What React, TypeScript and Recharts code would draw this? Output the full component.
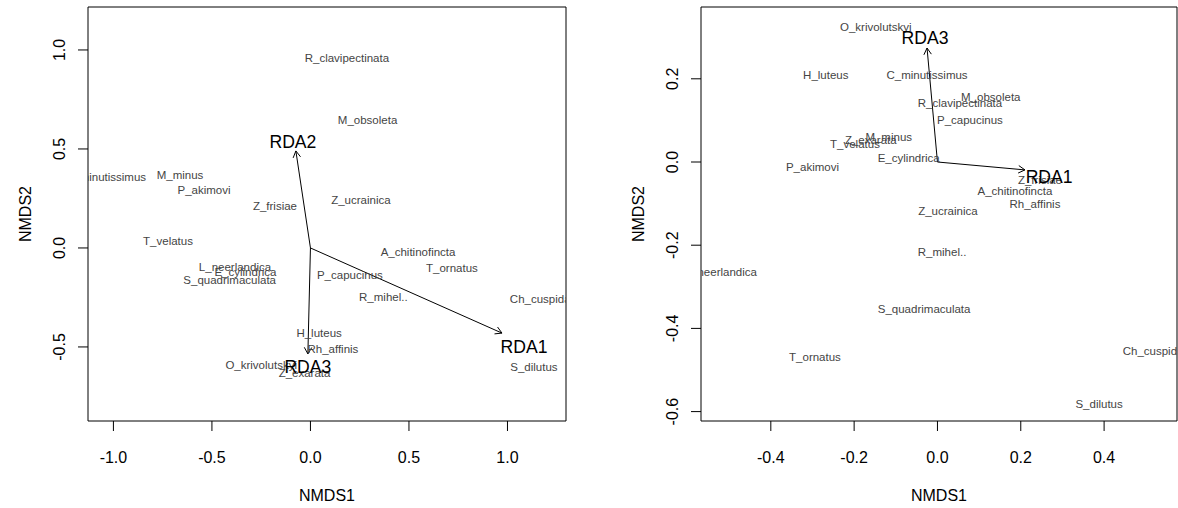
import React from 'react';
import { ScatterChart, Scatter, XAxis, YAxis, ReferenceLine, ReferenceArea, Label } from 'recharts';

const FONT = '"Liberation Sans", Arial, Helvetica, sans-serif';

// ---------- Left panel data ----------
const leftNames = [
  'R_clavipectinata', 'M_obsoleta', 'C_minutissimus', 'M_minus', 'P_akimovi', 'Z_frisiae',
  'Z_ucrainica', 'T_velatus', 'A_chitinofincta', 'T_ornatus', 'L_neerlandica', 'E_cylindrica',
  'S_quadrimaculata', 'P_capucinus', 'R_mihel..', 'Ch_cuspidatus', 'H_luteus', 'Rh_affinis',
  'O_krivolutskyi', 'Z_exarata', 'S_dilutus',
];
const leftX = [
  0.185, 0.29, -1.04, -0.662, -0.54, -0.18,
  0.256, -0.723, 0.546, 0.718, -0.383, -0.33,
  -0.41, 0.2, 0.37, 1.205, 0.044, 0.114,
  -0.25, -0.03, 1.134,
];
const leftY = [
  0.96, 0.646, 0.36, 0.369, 0.293, 0.21,
  0.24, 0.035, -0.02, -0.1, -0.096, -0.12,
  -0.16, -0.135, -0.25, -0.26, -0.43, -0.51,
  -0.59, -0.63, -0.6,
];
const leftArrowNames = ['RDA1', 'RDA2', 'RDA3'];
const leftArrowX = [0.972, -0.074, -0.013];
const leftArrowY = [-0.43, 0.49, -0.535];
const leftArrowLabelX = [1.084, -0.089, -0.013];
const leftArrowLabelY = [-0.5, 0.535, -0.6];
const leftXTicks = [-1.0, -0.5, 0.0, 0.5, 1.0];
const leftYTicks = [-0.5, 0.0, 0.5, 1.0];
const leftXDomain = [-1.129, 1.297];
const leftYDomain = [-0.874, 1.217];

// ---------- Right panel data ----------
const rightNames = [
  'O_krivolutskyi', 'H_luteus', 'C_minutissimus', 'R_clavipectinata', 'M_obsoleta', 'P_capucinus',
  'M_minus', 'Z_exarata', 'T_velatus', 'E_cylindrica', 'P_akimovi', 'Z_frisiae',
  'A_chitinofincta', 'Rh_affinis', 'Z_ucrainica', 'R_mihel..', 'L_neerlandica', 'S_quadrimaculata',
  'T_ornatus', 'Ch_cuspidatus', 'S_dilutus',
];
const rightX = [
  -0.148, -0.268, -0.025, 0.054, 0.128, 0.078,
  -0.117, -0.16, -0.198, -0.069, -0.3, 0.246,
  0.186, 0.234, 0.025, 0.011, -0.52, -0.032,
  -0.294, 0.536, 0.388,
];
const rightY = [
  0.324, 0.21, 0.209, 0.142, 0.156, 0.1,
  0.06, 0.053, 0.043, 0.01, -0.012, -0.043,
  -0.07, -0.1, -0.118, -0.216, -0.264, -0.353,
  -0.469, -0.454, -0.582,
];
const rightArrowNames = ['RDA1', 'RDA3'];
const rightArrowX = [0.21, -0.025];
const rightArrowY = [-0.019, 0.274];
const rightArrowLabelX = [0.268, -0.03];
const rightArrowLabelY = [-0.036, 0.298];
const rightXTicks = [-0.4, -0.2, 0.0, 0.2, 0.4];
const rightYTicks = [-0.6, -0.4, -0.2, 0.0, 0.2];
const rightXDomain = [-0.5676, 0.575];
const rightYDomain = [-0.6226, 0.3726];

const toPoints = (names: string[], xs: number[], ys: number[]) =>
  names.map((n, i) => ({ name: n, x: xs[i], y: ys[i] }));

const SpeciesLabel = (props: any) => (
  <text
    x={props.cx}
    y={props.cy}
    dy="0.35em"
    textAnchor="middle"
    fontSize={11.5}
    fontFamily={FONT}
    fill="#444"
  >
    {props.payload.name}
  </text>
);

const ArrowLabel = (props: any) => (
  <text
    x={props.cx}
    y={props.cy}
    dy="0.35em"
    textAnchor="middle"
    fontSize={17.6}
    fontFamily={FONT}
    fill="#000"
  >
    {props.payload.name}
  </text>
);

const ArrowShape = (p: any) => {
  const { x1, y1, x2, y2 } = p;
  const a = Math.atan2(y2 - y1, x2 - x1);
  const L = 7.5;
  const h = Math.PI / 6;
  const ax = x2 - L * Math.cos(a - h);
  const ay = y2 - L * Math.sin(a - h);
  const bx = x2 - L * Math.cos(a + h);
  const by = y2 - L * Math.sin(a + h);
  return (
    <g>
      <line x1={x1} y1={y1} x2={x2} y2={y2} stroke="#000" strokeWidth={1} />
      <polyline points={`${ax},${ay} ${x2},${y2} ${bx},${by}`} fill="none" stroke="#000" strokeWidth={1} />
    </g>
  );
};

const XTick = (props: any) => (
  <text x={props.x} y={props.y + 30} textAnchor="middle" fontSize={16} fontFamily={FONT} fill="#000">
    {Number(props.payload.value).toFixed(1)}
  </text>
);

const YTick = (props: any) => {
  const bx = props.x - 11;
  return (
    <text
      x={bx}
      y={props.y}
      textAnchor="middle"
      fontSize={16}
      fontFamily={FONT}
      fill="#000"
      transform={`rotate(-90 ${bx} ${props.y})`}
    >
      {Number(props.payload.value).toFixed(1)}
    </text>
  );
};

type PanelProps = {
  left: number;
  width: number;
  yAxisWidth: number;
  rightMargin: number;
  xDomain: number[];
  yDomain: number[];
  xTicks: number[];
  yTicks: number[];
  names: string[];
  xs: number[];
  ys: number[];
  arrowNames: string[];
  arrowX: number[];
  arrowY: number[];
  arrowLabelX: number[];
  arrowLabelY: number[];
};

const TOP = 7;
const XAXIS_H = 87;
const CHART_H = 508;

function Panel(p: PanelProps) {
  const points = toPoints(p.names, p.xs, p.ys);
  const arrowLabels = toPoints(p.arrowNames, p.arrowLabelX, p.arrowLabelY);
  const plotMidY = TOP + (CHART_H - TOP - XAXIS_H) / 2;
  return (
    <div style={{ position: 'absolute', left: p.left, top: 0 }}>
      <ScatterChart width={p.width} height={CHART_H} margin={{ top: TOP, right: p.rightMargin, bottom: 0, left: 0 }}>
        <XAxis
          type="number"
          dataKey="x"
          domain={p.xDomain}
          ticks={p.xTicks}
          allowDataOverflow
          height={XAXIS_H}
          axisLine={false}
          tickLine={{ stroke: '#000' }}
          tickSize={10}
          tickMargin={2}
          tick={XTick}
          interval={0}
        >
          <Label
            content={(lp: any) => {
              const vb = lp.viewBox;
              return (
                <text x={vb.x + vb.width / 2} y={vb.y + 80} textAnchor="middle" fontSize={16} fontFamily={FONT} fill="#000">
                  NMDS1
                </text>
              );
            }}
          />
        </XAxis>
        <YAxis
          type="number"
          dataKey="y"
          domain={p.yDomain}
          ticks={p.yTicks}
          allowDataOverflow
          width={p.yAxisWidth}
          axisLine={false}
          tickLine={{ stroke: '#000' }}
          tickSize={10}
          tickMargin={2}
          tick={YTick}
          interval={0}
        >
          <Label
            content={(lp: any) => {
              const vb = lp.viewBox;
              const bx = vb.x + vb.width - 57;
              const cy = plotMidY;
              return (
                <text
                  x={bx}
                  y={cy}
                  textAnchor="middle"
                  fontSize={16}
                  fontFamily={FONT}
                  fill="#000"
                  transform={`rotate(-90 ${bx} ${cy})`}
                >
                  NMDS2
                </text>
              );
            }}
          />
        </YAxis>
        <ReferenceArea
          x1={p.xDomain[0]}
          x2={p.xDomain[1]}
          y1={p.yDomain[0]}
          y2={p.yDomain[1]}
          fill="none"
          stroke="#000"
          strokeWidth={1}
          ifOverflow="visible"
        />
        <Scatter data={points} shape={<SpeciesLabel />} isAnimationActive={false} />
        {p.arrowNames.map((n, i) => (
          <ReferenceLine
            key={n}
            segment={[{ x: 0, y: 0 }, { x: p.arrowX[i], y: p.arrowY[i] }]}
            shape={ArrowShape}
            ifOverflow="visible"
          />
        ))}
        <Scatter data={arrowLabels} shape={<ArrowLabel />} isAnimationActive={false} />
      </ScatterChart>
    </div>
  );
}

export default function App() {
  return (
    <div style={{ position: 'absolute', left: 0, top: 0, width: 1178, height: 508, background: '#fff' }}>
      <Panel
        left={0}
        width={589}
        yAxisWidth={88}
        rightMargin={23}
        xDomain={leftXDomain}
        yDomain={leftYDomain}
        xTicks={leftXTicks}
        yTicks={leftYTicks}
        names={leftNames}
        xs={leftX}
        ys={leftY}
        arrowNames={leftArrowNames}
        arrowX={leftArrowX}
        arrowY={leftArrowY}
        arrowLabelX={leftArrowLabelX}
        arrowLabelY={leftArrowLabelY}
      />
      <Panel
        left={589}
        width={589}
        yAxisWidth={112}
        rightMargin={1}
        xDomain={rightXDomain}
        yDomain={rightYDomain}
        xTicks={rightXTicks}
        yTicks={rightYTicks}
        names={rightNames}
        xs={rightX}
        ys={rightY}
        arrowNames={rightArrowNames}
        arrowX={rightArrowX}
        arrowY={rightArrowY}
        arrowLabelX={rightArrowLabelX}
        arrowLabelY={rightArrowLabelY}
      />
    </div>
  );
}
